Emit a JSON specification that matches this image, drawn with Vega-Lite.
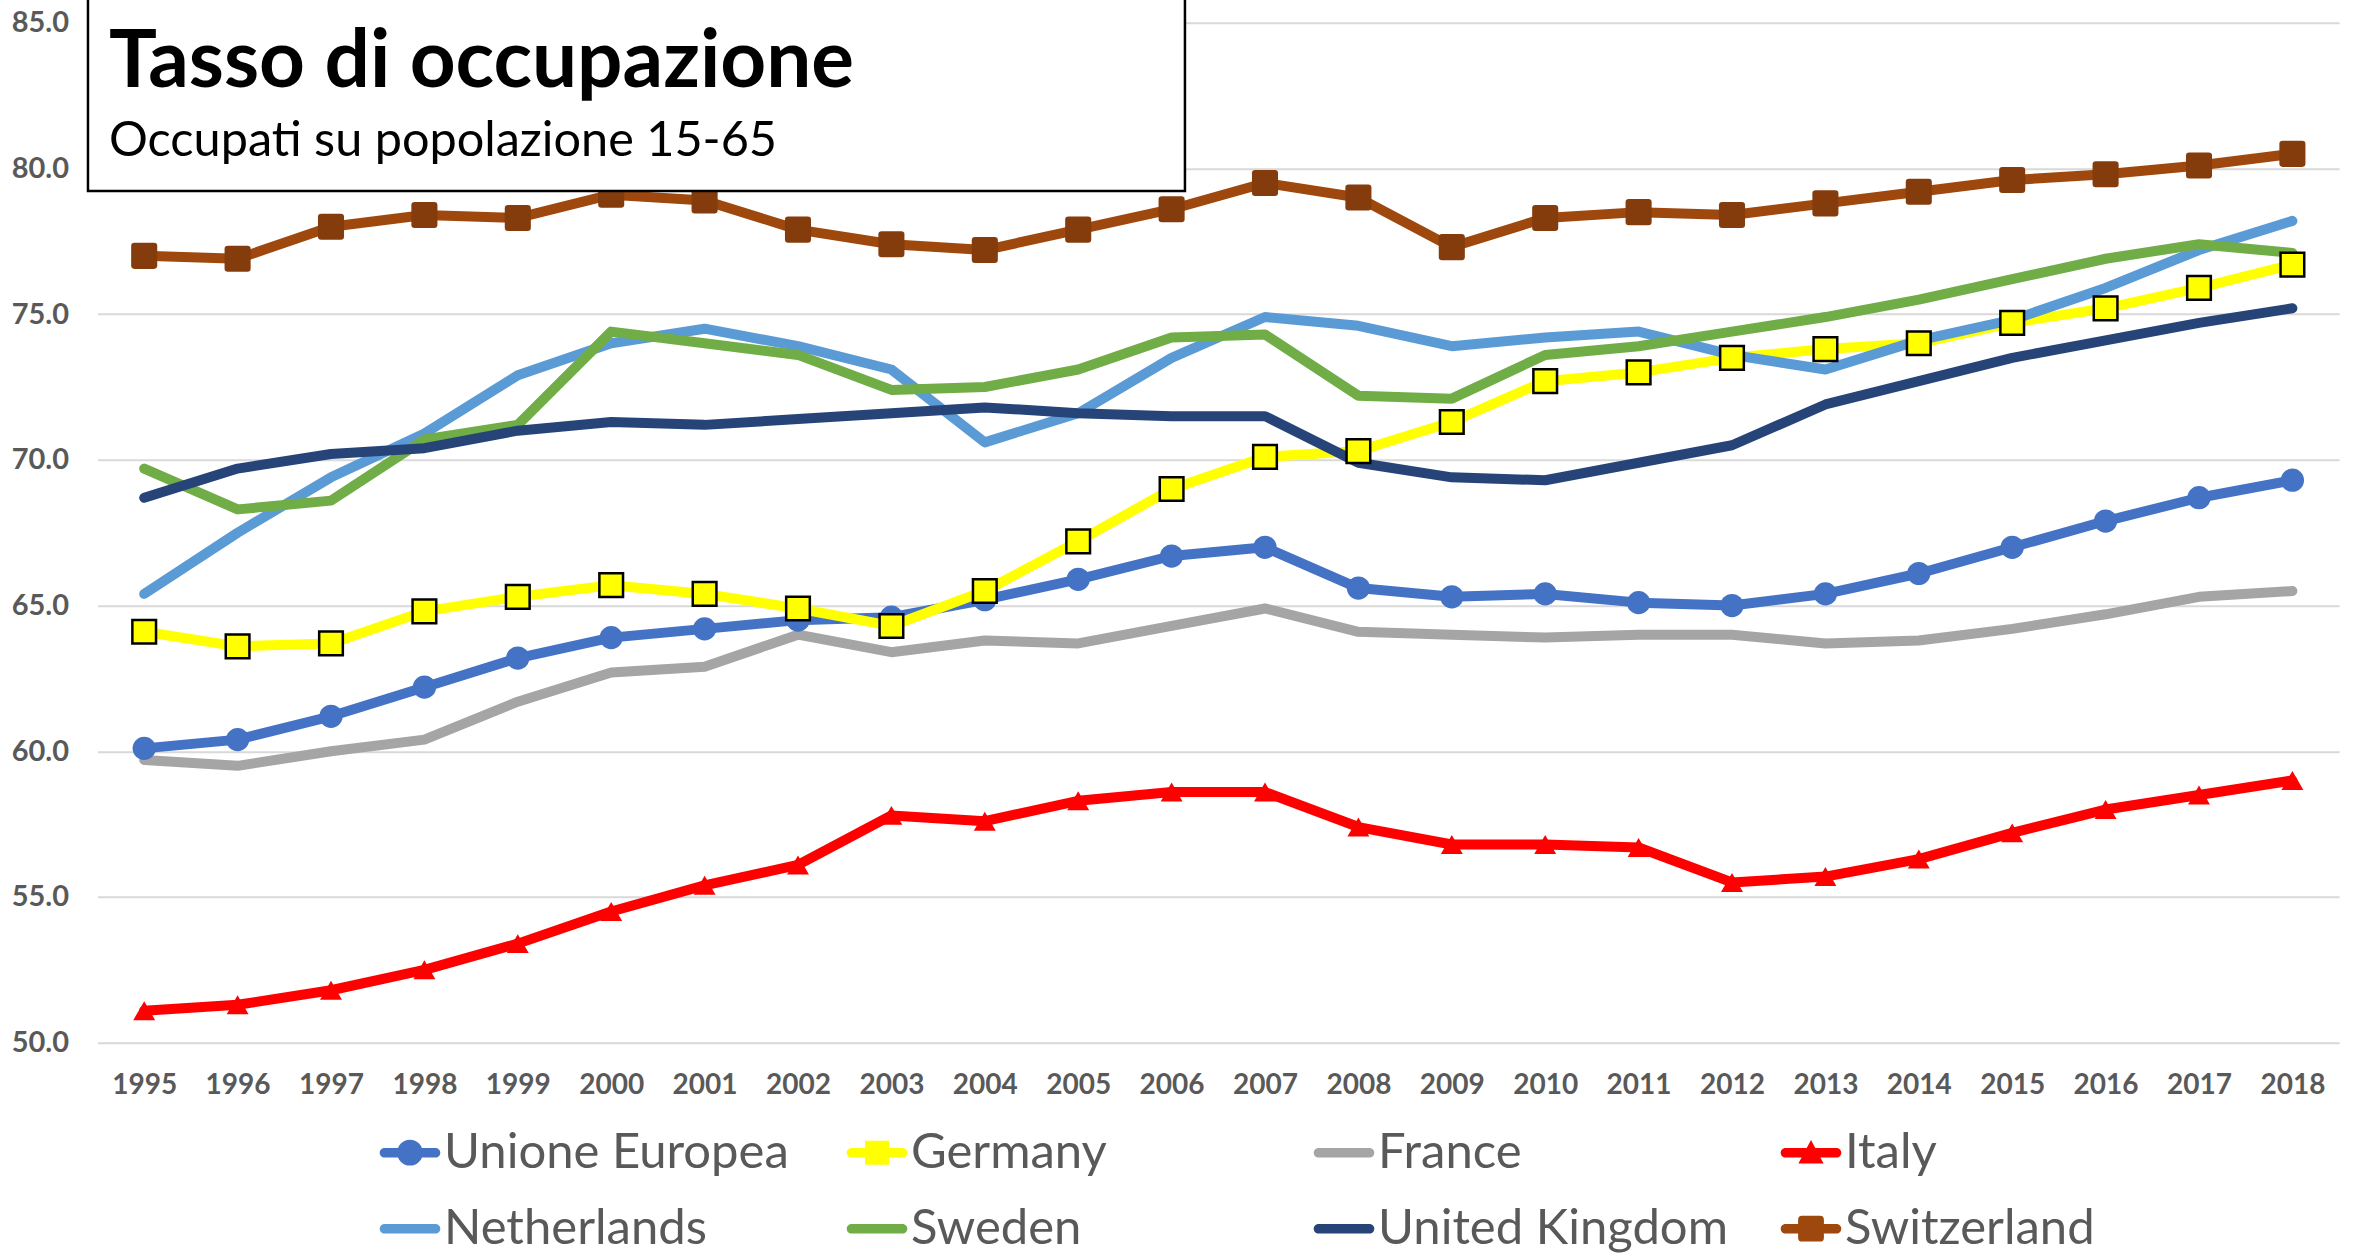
{
  "$schema": "https://vega.github.io/schema/vega-lite/v6.json",
  "width": 2241.6,
  "height": 1020,
  "autosize": {"type": "none"},
  "padding": {"left": 97.5, "top": 22.7, "right": 17.9, "bottom": 212.3},
  "background": "white",
  "config": {"view": {"stroke": null}, "font": "Lato"},
  "title": {
    "text": "Tasso di occupazione",
    "subtitle": "Occupati su popolazione 15-65",
    "orient": "top",
    "anchor": "start",
    "frame": "group",
    "offset": -170,
    "dx": 11.5,
    "font": "Lato",
    "fontSize": 80,
    "fontWeight": "bold",
    "color": "#000000",
    "subtitleFont": "Lato",
    "subtitleFontSize": 48.6,
    "subtitleColor": "#000000",
    "subtitlePadding": 14
  },
  "datasets": {
    "box": [{"x1": 1994.398, "x2": 2006.143, "y1": 79.225, "y2": 85.85}]
  },
  "data": {"values": [
    {"country":"Unione Europea","year":1995,"value":60.1},{"country":"Unione Europea","year":1996,"value":60.4},{"country":"Unione Europea","year":1997,"value":61.2},{"country":"Unione Europea","year":1998,"value":62.2},{"country":"Unione Europea","year":1999,"value":63.2},{"country":"Unione Europea","year":2000,"value":63.9},{"country":"Unione Europea","year":2001,"value":64.2},{"country":"Unione Europea","year":2002,"value":64.5},{"country":"Unione Europea","year":2003,"value":64.6},{"country":"Unione Europea","year":2004,"value":65.2},{"country":"Unione Europea","year":2005,"value":65.9},{"country":"Unione Europea","year":2006,"value":66.7},{"country":"Unione Europea","year":2007,"value":67.0},{"country":"Unione Europea","year":2008,"value":65.6},{"country":"Unione Europea","year":2009,"value":65.3},{"country":"Unione Europea","year":2010,"value":65.4},{"country":"Unione Europea","year":2011,"value":65.1},{"country":"Unione Europea","year":2012,"value":65.0},{"country":"Unione Europea","year":2013,"value":65.4},{"country":"Unione Europea","year":2014,"value":66.1},{"country":"Unione Europea","year":2015,"value":67.0},{"country":"Unione Europea","year":2016,"value":67.9},{"country":"Unione Europea","year":2017,"value":68.7},{"country":"Unione Europea","year":2018,"value":69.3},
    {"country":"Germany","year":1995,"value":64.1},{"country":"Germany","year":1996,"value":63.6},{"country":"Germany","year":1997,"value":63.7},{"country":"Germany","year":1998,"value":64.8},{"country":"Germany","year":1999,"value":65.3},{"country":"Germany","year":2000,"value":65.7},{"country":"Germany","year":2001,"value":65.4},{"country":"Germany","year":2002,"value":64.9},{"country":"Germany","year":2003,"value":64.3},{"country":"Germany","year":2004,"value":65.5},{"country":"Germany","year":2005,"value":67.2},{"country":"Germany","year":2006,"value":69.0},{"country":"Germany","year":2007,"value":70.1},{"country":"Germany","year":2008,"value":70.3},{"country":"Germany","year":2009,"value":71.3},{"country":"Germany","year":2010,"value":72.7},{"country":"Germany","year":2011,"value":73.0},{"country":"Germany","year":2012,"value":73.5},{"country":"Germany","year":2013,"value":73.8},{"country":"Germany","year":2014,"value":74.0},{"country":"Germany","year":2015,"value":74.7},{"country":"Germany","year":2016,"value":75.2},{"country":"Germany","year":2017,"value":75.9},{"country":"Germany","year":2018,"value":76.7},
    {"country":"France","year":1995,"value":59.7},{"country":"France","year":1996,"value":59.5},{"country":"France","year":1997,"value":60.0},{"country":"France","year":1998,"value":60.4},{"country":"France","year":1999,"value":61.7},{"country":"France","year":2000,"value":62.7},{"country":"France","year":2001,"value":62.9},{"country":"France","year":2002,"value":64.0},{"country":"France","year":2003,"value":63.4},{"country":"France","year":2004,"value":63.8},{"country":"France","year":2005,"value":63.7},{"country":"France","year":2006,"value":64.3},{"country":"France","year":2007,"value":64.9},{"country":"France","year":2008,"value":64.1},{"country":"France","year":2009,"value":64.0},{"country":"France","year":2010,"value":63.9},{"country":"France","year":2011,"value":64.0},{"country":"France","year":2012,"value":64.0},{"country":"France","year":2013,"value":63.7},{"country":"France","year":2014,"value":63.8},{"country":"France","year":2015,"value":64.2},{"country":"France","year":2016,"value":64.7},{"country":"France","year":2017,"value":65.3},{"country":"France","year":2018,"value":65.5},
    {"country":"Italy","year":1995,"value":51.1},{"country":"Italy","year":1996,"value":51.3},{"country":"Italy","year":1997,"value":51.8},{"country":"Italy","year":1998,"value":52.5},{"country":"Italy","year":1999,"value":53.4},{"country":"Italy","year":2000,"value":54.5},{"country":"Italy","year":2001,"value":55.4},{"country":"Italy","year":2002,"value":56.1},{"country":"Italy","year":2003,"value":57.8},{"country":"Italy","year":2004,"value":57.6},{"country":"Italy","year":2005,"value":58.3},{"country":"Italy","year":2006,"value":58.6},{"country":"Italy","year":2007,"value":58.6},{"country":"Italy","year":2008,"value":57.4},{"country":"Italy","year":2009,"value":56.8},{"country":"Italy","year":2010,"value":56.8},{"country":"Italy","year":2011,"value":56.7},{"country":"Italy","year":2012,"value":55.5},{"country":"Italy","year":2013,"value":55.7},{"country":"Italy","year":2014,"value":56.3},{"country":"Italy","year":2015,"value":57.2},{"country":"Italy","year":2016,"value":58.0},{"country":"Italy","year":2017,"value":58.5},{"country":"Italy","year":2018,"value":59.0},
    {"country":"Netherlands","year":1995,"value":65.4},{"country":"Netherlands","year":1996,"value":67.5},{"country":"Netherlands","year":1997,"value":69.4},{"country":"Netherlands","year":1998,"value":70.9},{"country":"Netherlands","year":1999,"value":72.9},{"country":"Netherlands","year":2000,"value":74.0},{"country":"Netherlands","year":2001,"value":74.5},{"country":"Netherlands","year":2002,"value":73.9},{"country":"Netherlands","year":2003,"value":73.1},{"country":"Netherlands","year":2004,"value":70.6},{"country":"Netherlands","year":2005,"value":71.6},{"country":"Netherlands","year":2006,"value":73.5},{"country":"Netherlands","year":2007,"value":74.9},{"country":"Netherlands","year":2008,"value":74.6},{"country":"Netherlands","year":2009,"value":73.9},{"country":"Netherlands","year":2010,"value":74.2},{"country":"Netherlands","year":2011,"value":74.4},{"country":"Netherlands","year":2012,"value":73.6},{"country":"Netherlands","year":2013,"value":73.1},{"country":"Netherlands","year":2014,"value":74.1},{"country":"Netherlands","year":2015,"value":74.8},{"country":"Netherlands","year":2016,"value":75.9},{"country":"Netherlands","year":2017,"value":77.2},{"country":"Netherlands","year":2018,"value":78.2},
    {"country":"Sweden","year":1995,"value":69.7},{"country":"Sweden","year":1996,"value":68.3},{"country":"Sweden","year":1997,"value":68.6},{"country":"Sweden","year":1998,"value":70.7},{"country":"Sweden","year":1999,"value":71.2},{"country":"Sweden","year":2000,"value":74.4},{"country":"Sweden","year":2001,"value":74.0},{"country":"Sweden","year":2002,"value":73.6},{"country":"Sweden","year":2003,"value":72.4},{"country":"Sweden","year":2004,"value":72.5},{"country":"Sweden","year":2005,"value":73.1},{"country":"Sweden","year":2006,"value":74.2},{"country":"Sweden","year":2007,"value":74.3},{"country":"Sweden","year":2008,"value":72.2},{"country":"Sweden","year":2009,"value":72.1},{"country":"Sweden","year":2010,"value":73.6},{"country":"Sweden","year":2011,"value":73.9},{"country":"Sweden","year":2012,"value":74.4},{"country":"Sweden","year":2013,"value":74.9},{"country":"Sweden","year":2014,"value":75.5},{"country":"Sweden","year":2015,"value":76.2},{"country":"Sweden","year":2016,"value":76.9},{"country":"Sweden","year":2017,"value":77.4},{"country":"Sweden","year":2018,"value":77.1},
    {"country":"United Kingdom","year":1995,"value":68.7},{"country":"United Kingdom","year":1996,"value":69.7},{"country":"United Kingdom","year":1997,"value":70.2},{"country":"United Kingdom","year":1998,"value":70.4},{"country":"United Kingdom","year":1999,"value":71.0},{"country":"United Kingdom","year":2000,"value":71.3},{"country":"United Kingdom","year":2001,"value":71.2},{"country":"United Kingdom","year":2002,"value":71.4},{"country":"United Kingdom","year":2003,"value":71.6},{"country":"United Kingdom","year":2004,"value":71.8},{"country":"United Kingdom","year":2005,"value":71.6},{"country":"United Kingdom","year":2006,"value":71.5},{"country":"United Kingdom","year":2007,"value":71.5},{"country":"United Kingdom","year":2008,"value":69.9},{"country":"United Kingdom","year":2009,"value":69.4},{"country":"United Kingdom","year":2010,"value":69.3},{"country":"United Kingdom","year":2011,"value":69.9},{"country":"United Kingdom","year":2012,"value":70.5},{"country":"United Kingdom","year":2013,"value":71.9},{"country":"United Kingdom","year":2014,"value":72.7},{"country":"United Kingdom","year":2015,"value":73.5},{"country":"United Kingdom","year":2016,"value":74.1},{"country":"United Kingdom","year":2017,"value":74.7},{"country":"United Kingdom","year":2018,"value":75.2},
    {"country":"Switzerland","year":1995,"value":77.0},{"country":"Switzerland","year":1996,"value":76.9},{"country":"Switzerland","year":1997,"value":78.0},{"country":"Switzerland","year":1998,"value":78.4},{"country":"Switzerland","year":1999,"value":78.3},{"country":"Switzerland","year":2000,"value":79.1},{"country":"Switzerland","year":2001,"value":78.9},{"country":"Switzerland","year":2002,"value":77.9},{"country":"Switzerland","year":2003,"value":77.4},{"country":"Switzerland","year":2004,"value":77.2},{"country":"Switzerland","year":2005,"value":77.9},{"country":"Switzerland","year":2006,"value":78.6},{"country":"Switzerland","year":2007,"value":79.5},{"country":"Switzerland","year":2008,"value":79.0},{"country":"Switzerland","year":2009,"value":77.3},{"country":"Switzerland","year":2010,"value":78.3},{"country":"Switzerland","year":2011,"value":78.5},{"country":"Switzerland","year":2012,"value":78.4},{"country":"Switzerland","year":2013,"value":78.8},{"country":"Switzerland","year":2014,"value":79.2},{"country":"Switzerland","year":2015,"value":79.6},{"country":"Switzerland","year":2016,"value":79.8},{"country":"Switzerland","year":2017,"value":80.1},{"country":"Switzerland","year":2018,"value":80.5}
  ]},
  "encoding": {
    "x": {
      "field": "year", "type": "quantitative",
      "scale": {"domain": [1994.5, 2018.5], "nice": false, "zero": false},
      "axis": {
        "title": null, "values": [1995,1996,1997,1998,1999,2000,2001,2002,2003,2004,2005,2006,2007,2008,2009,2010,2011,2012,2013,2014,2015,2016,2017,2018],
        "format": "d", "grid": false, "domain": false, "ticks": false,
        "labelFont": "Lato", "labelFontSize": 28, "labelFontWeight": "bold", "labelColor": "#595959",
        "labelPadding": 29, "labelFlush": false, "labelOverlap": false
      }
    },
    "y": {
      "field": "value", "type": "quantitative",
      "scale": {"domain": [50, 85], "nice": false, "zero": false},
      "axis": {
        "title": null, "values": [50,55,60,65,70,75,80,85], "format": ".1f",
        "grid": true, "gridColor": "#D9D9D9", "gridWidth": 2, "domain": false, "ticks": false,
        "labelFont": "Lato", "labelFontSize": 29, "labelFontWeight": "bold", "labelColor": "#595959",
        "labelPadding": 29, "labelFlush": false, "labelOverlap": false
      }
    }
  },
  "layer": [
    {
      "mark": {"type": "line", "strokeWidth": 10, "strokeCap": "round", "strokeJoin": "round"},
      "encoding": {
        "color": {
          "field": "country", "type": "nominal",
          "scale": {
            "domain": ["Unione Europea","Germany","France","Italy","Netherlands","Sweden","United Kingdom","Switzerland"],
            "range": ["#4472C4","#FFFF00","#A5A5A5","#FF0000","#5B9BD5","#70AD47","#264478","#9E480E"]
          }
        },
        "order": {"field": "year", "type": "quantitative"}
      }
    },
    {
      "transform": [{"filter": "datum.country === 'Unione Europea'"}],
      "mark": {"type": "point", "filled": true, "shape": "circle", "size": 540, "opacity": 1, "color": "#4472C4"}
    },
    {
      "transform": [{"filter": "datum.country === 'Germany'"}],
      "mark": {"type": "point", "filled": true, "shape": "square", "size": 560, "opacity": 1, "fill": "#FFFF00", "stroke": "#000000", "strokeWidth": 2.5}
    },
    {
      "transform": [{"filter": "datum.country === 'Italy'"}],
      "mark": {"type": "point", "filled": true, "shape": "triangle-up", "size": 480, "opacity": 1, "color": "#FF0000"}
    },
    {
      "transform": [{"filter": "datum.country === 'Switzerland'"}],
      "mark": {"type": "point", "filled": true, "shape": "M-0.75,-1H0.75Q1,-1 1,-0.75V0.75Q1,1 0.75,1H-0.75Q-1,1 -1,0.75V-0.75Q-1,-1 -0.75,-1Z", "size": 680, "opacity": 1, "color": "#843C0C"}
    },
    {
      "transform": [{"filter": "datum.year < 0"}],
      "mark": {"type": "point", "filled": true},
      "encoding": {
        "color": {
          "field": "country", "type": "nominal",
          "legend": {
            "title": null, "orient": "none", "legendX": 282.5, "legendY": 1100,
            "columns": 4, "direction": "horizontal", "gridAlign": "all",
            "columnPadding": 52, "rowPadding": 21,
            "symbolSize": 3600, "symbolStrokeWidth": 0, "symbolOpacity": 1,
            "labelFont": "Lato", "labelFontSize": 49, "labelColor": "#595959", "labelOffset": 4, "labelLimit": 0
          }
        },
        "shape": {
          "field": "country", "type": "nominal",
          "scale": {
            "domain": ["Unione Europea","Germany","France","Italy","Netherlands","Sweden","United Kingdom","Switzerland"],
            "range": [
              "M-0.85,-0.16H0.85A0.16,0.16 0 0,1 0.85,0.16H-0.85A0.16,0.16 0 0,1 -0.85,-0.16Z M0,-0.43A0.43,0.43 0 1,1 0,0.43A0.43,0.43 0 1,1 0,-0.43Z",
              "M-0.85,-0.16H0.85A0.16,0.16 0 0,1 0.85,0.16H-0.85A0.16,0.16 0 0,1 -0.85,-0.16Z M-0.4,-0.4H0.4V0.4H-0.4Z",
              "M-0.85,-0.16H0.85A0.16,0.16 0 0,1 0.85,0.16H-0.85A0.16,0.16 0 0,1 -0.85,-0.16Z",
              "M-0.85,-0.16H0.85A0.16,0.16 0 0,1 0.85,0.16H-0.85A0.16,0.16 0 0,1 -0.85,-0.16Z M0,-0.42L0.42,0.36H-0.42Z",
              "M-0.85,-0.16H0.85A0.16,0.16 0 0,1 0.85,0.16H-0.85A0.16,0.16 0 0,1 -0.85,-0.16Z",
              "M-0.85,-0.16H0.85A0.16,0.16 0 0,1 0.85,0.16H-0.85A0.16,0.16 0 0,1 -0.85,-0.16Z",
              "M-0.85,-0.16H0.85A0.16,0.16 0 0,1 0.85,0.16H-0.85A0.16,0.16 0 0,1 -0.85,-0.16Z",
              "M-0.85,-0.16H0.85A0.16,0.16 0 0,1 0.85,0.16H-0.85A0.16,0.16 0 0,1 -0.85,-0.16Z M-0.3,-0.43H0.3Q0.43,-0.43 0.43,-0.3V0.3Q0.43,0.43 0.3,0.43H-0.3Q-0.43,0.43 -0.43,0.3V-0.3Q-0.43,-0.43 -0.3,-0.43Z"
            ]
          },
          "legend": {
            "title": null, "orient": "none", "legendX": 282.5, "legendY": 1100,
            "columns": 4, "direction": "horizontal", "gridAlign": "all",
            "columnPadding": 52, "rowPadding": 21,
            "symbolSize": 3600, "symbolStrokeWidth": 0, "symbolOpacity": 1,
            "labelFont": "Lato", "labelFontSize": 49, "labelColor": "#595959", "labelOffset": 4, "labelLimit": 0
          }
        }
      }
    },
    {
      "data": {"name": "box"},
      "mark": {"type": "rect", "fill": "#FFFFFF", "stroke": "#000000", "strokeWidth": 2.5},
      "encoding": {
        "x": {"field": "x1", "type": "quantitative"},
        "x2": {"field": "x2"},
        "y": {"field": "y1", "type": "quantitative"},
        "y2": {"field": "y2"}
      }
    }
  ]
}
